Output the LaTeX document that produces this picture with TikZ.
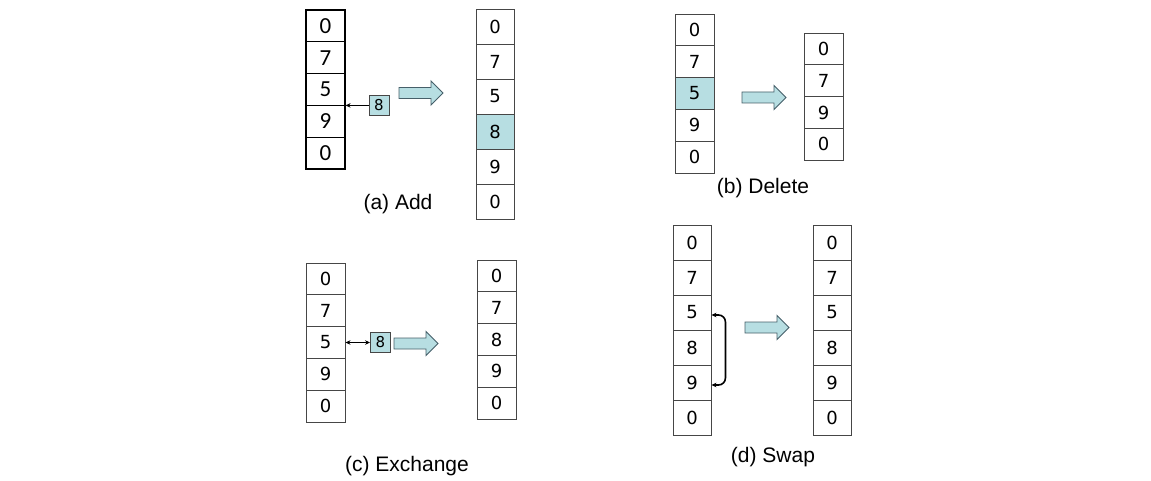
\documentclass[tikz,border=0pt]{standalone}
\usepackage{fontspec}
\setmainfont{Liberation Sans}
\newfontfamily\digitfont{DejaVu Sans}
\newfontfamily\calfont{Carlito}
\usetikzlibrary{arrows.meta}
\definecolor{cellblue}{RGB}{183,222,226}
\definecolor{cellline}{RGB}{70,70,70}
\definecolor{arrowline}{RGB}{70,95,105}
\newcommand{\bigarr}[2]{% x0, yc
  \draw[bigarrow] (#1,#2-5.5) -- (#1+32,#2-5.5) -- (#1+32,#2-12) -- (#1+44,#2) -- (#1+32,#2+12) -- (#1+32,#2+5.5) -- (#1,#2+5.5) -- cycle;}
\begin{document}
\begin{tikzpicture}[x=1pt,y=-1pt,
  cell/.style 2 args={draw=cellline, line width=0.9pt, minimum width=#1, minimum height=#2, inner sep=0pt, font=\digitfont\fontsize{18}{18}\selectfont},
  boldcell/.style 2 args={draw=black, line width=1.1pt, minimum width=#1, minimum height=#2, inner sep=0pt, font=\calfont\fontsize{23}{23}\selectfont},
  hl/.style={fill=cellblue},
  smallbox/.style={draw=cellline, line width=0.9pt, fill=cellblue, minimum width=20pt, minimum height=20pt, inner sep=0pt, font=\digitfont\fontsize{15}{15}\selectfont},
  bigarrow/.style={draw=arrowline, line width=0.9pt, fill=cellblue},
  smallarr/.style={line width=1.1pt, -{Stealth[length=5pt,width=4.5pt]}},
  dblarr/.style={line width=1.1pt, {Stealth[length=5pt,width=4.5pt]}-{Stealth[length=5pt,width=4.5pt]}},
  caption/.style={font=\fontsize{21}{24}\selectfont, inner sep=0pt}
]
\useasboundingbox (0,0) rectangle (1151,481);
% (a) Add
\foreach \v [count=\i] in {0,7,5,9,0}
  \node[boldcell={39}{31.8}] (aL\i) at (325.5,{10+31.8*(\i-0.5)}) {\v};
\foreach \v [count=\i] in {0,7,5,8,9,0}
  \node[cell={38}{35}] (aR\i) at (495,{9+35*(\i-0.5)}) {\v};
\node[cell={38}{35},hl] at (aR4) {8};
\node[smallbox] (sa) at (379,{10+31.8*3}) {8};
\draw[smallarr] (sa.west) -- (sa.west -| aL3.east);
\bigarr{399}{93}
\node[caption] (capa) at (398,204) {(a) Add};
% (b) Delete
\foreach \v [count=\i] in {0,7,5,9,0}
  \node[cell={39}{31.8}] (bL\i) at (694.5,{14+31.8*(\i-0.5)}) {\v};
\node[cell={39}{31.8},hl] at (bL3) {5};
\foreach \v [count=\i] in {0,7,9,0}
  \node[cell={39}{31.8}] (bR\i) at (823.5,{33+31.8*(\i-0.5)}) {\v};
\bigarr{742}{97.5}
\node[caption] (capb) at (763,188) {(b) Delete};
% (c) Exchange
\foreach \v [count=\i] in {0,7,5,9,0}
  \node[cell={39}{31.8}] (cL\i) at (325.5,{263+31.8*(\i-0.5)}) {\v};
\foreach \v [count=\i] in {0,7,8,9,0}
  \node[cell={39}{31.8}] (cR\i) at (496.5,{260+31.8*(\i-0.5)}) {\v};
\node[smallbox] (sc) at (380.5,{263+31.8*2.5}) {8};
\draw[dblarr] (cL3.east) -- (sc.west);
\bigarr{394}{343.5}
\node[caption] (capc) at (407,466) {(c) Exchange};
% (d) Swap
\foreach \v [count=\i] in {0,7,5,8,9,0}
  \node[cell={38}{35}] (dL\i) at (692,{225+35*(\i-0.5)}) {\v};
\foreach \v [count=\i] in {0,7,5,8,9,0}
  \node[cell={38}{35}] (dR\i) at (832,{225+35*(\i-0.5)}) {\v};
\coordinate (s1) at ([yshift=-2.5pt]dL3.east);
\coordinate (s2) at ([yshift=-2.5pt]dL5.east);
\draw[dblarr, line width=1.6pt, rounded corners=7pt] (s1) -- ++(14,0) -- ([xshift=14pt]s2) -- (s2);
\bigarr{745}{327.5}
\node[caption] (capd) at (773,457) {(d) Swap};
\end{tikzpicture}
\end{document}
